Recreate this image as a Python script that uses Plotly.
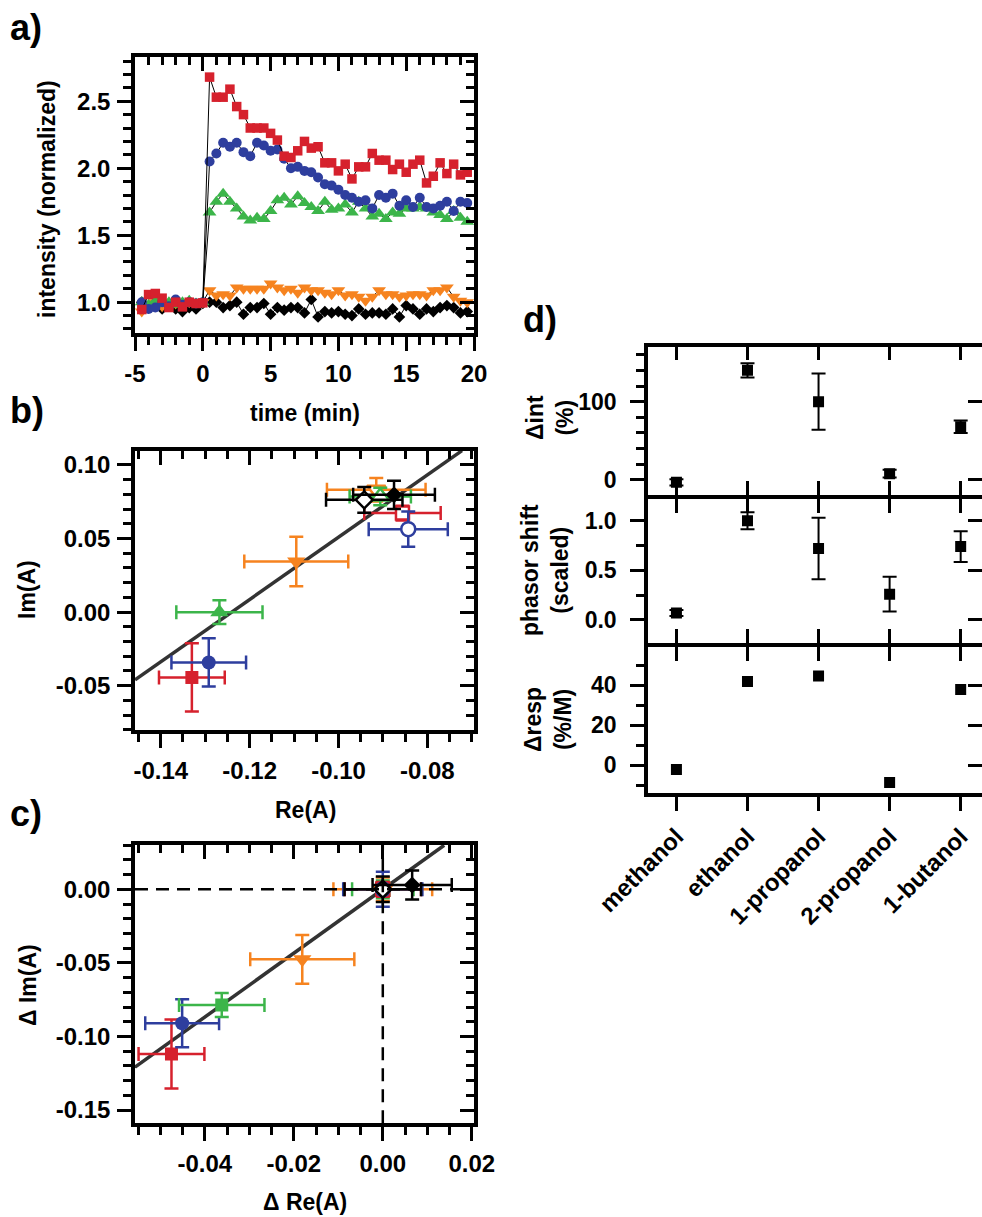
import plotly.graph_objects as go

W, H = 982, 1217
FONT = "Liberation Sans, Arial, sans-serif"

# ---------------- a) normalized intensity vs time ----------------
time_min = [-4.5, -4.0, -3.5, -3.0, -2.5, -2.0, -1.5, -1.0, -0.5, 0.0,
            0.5, 1.0, 1.5, 2.0, 2.5, 3.0, 3.5, 4.0, 4.5, 5.0,
            5.5, 6.0, 6.5, 7.0, 7.5, 8.0, 8.5, 9.0, 9.5, 10.0,
            10.5, 11.0, 11.5, 12.0, 12.5, 13.0, 13.5, 14.0, 14.5, 15.0,
            15.5, 16.0, 16.5, 17.0, 17.5, 18.0, 18.5, 19.0, 19.5]

int_red = [0.945, 1.057, 1.065, 1.03, 0.96, 1.00, 0.965, 1.00, 0.99, 0.995,
           2.68, 2.53, 2.53, 2.59, 2.46, 2.40, 2.30, 2.30, 2.30, 2.26,
           2.21, 2.09, 2.08, 2.13, 2.20, 2.15, 2.16, 2.04, 2.04, 1.98,
           2.03, 1.92, 2.01, 2.01, 2.11, 2.06, 2.06, 1.99, 2.03, 1.97,
           2.03, 2.06, 1.89, 1.94, 2.04, 1.96, 2.03, 1.95, 1.97]
int_blue = [1.00, 0.95, 0.96, 1.00, 0.97, 1.02, 0.98, 1.00, 0.99, 1.00,
            2.05, 2.11, 2.19, 2.16, 2.19, 2.12, 2.09, 2.19, 2.17, 2.13,
            2.14, 2.07, 2.00, 2.01, 1.98, 1.97, 1.93, 1.88, 1.87, 1.84,
            1.80, 1.78, 1.75, 1.76, 1.70, 1.80, 1.78, 1.81, 1.72, 1.76,
            1.71, 1.78, 1.71, 1.70, 1.72, 1.75, 1.68, 1.75, 1.74]
int_green = [1.00, 0.98, 1.01, 0.99, 1.00, 0.98, 1.00, 1.01, 0.99, 1.00,
             1.67, 1.75, 1.81, 1.75, 1.70, 1.64, 1.61, 1.63, 1.62, 1.68,
             1.76, 1.78, 1.73, 1.79, 1.74, 1.71, 1.68, 1.75, 1.69, 1.70,
             1.73, 1.67, 1.75, 1.70, 1.64, 1.66, 1.62, 1.67, 1.66, 1.70,
             1.70, 1.71, 1.70, 1.67, 1.65, 1.62, 1.68, 1.63, 1.60]
int_orange = [0.93, 0.98, 1.00, 0.97, 1.00, 0.99, 0.98, 1.00, 1.00, 1.00,
              1.09, 1.05, 1.06, 1.05, 1.11, 1.10, 1.10, 1.10, 1.10, 1.14,
              1.11, 1.09, 1.10, 1.07, 1.11, 1.09, 1.09, 1.07, 1.06, 1.09,
              1.05, 1.06, 1.04, 1.01, 1.04, 1.09, 1.06, 1.06, 1.04, 1.05,
              1.06, 1.06, 1.05, 1.09, 1.09, 1.11, 1.04, 1.01, 1.00]
int_black = [1.00, 0.96, 0.99, 0.95, 0.97, 0.95, 0.93, 0.96, 0.95, 0.99,
             1.00, 1.00, 0.96, 0.975, 1.00, 0.91, 0.96, 0.96, 0.99, 0.91,
             0.96, 0.94, 0.96, 0.96, 0.92, 1.02, 0.89, 0.93, 0.92, 0.93,
             0.91, 0.90, 0.95, 0.91, 0.92, 0.92, 0.91, 0.95, 0.89, 0.975,
             0.95, 0.91, 0.95, 0.93, 0.96, 0.975, 0.96, 0.92, 0.93]

# ---------------- b) phasor positions ----------------
series_names = ["red", "blue", "green", "orange", "black"]
b_re = [-0.1330, -0.1292, -0.1268, -0.1095, -0.0875]
b_im = [-0.0444, -0.0342, 0.0000, 0.0344, 0.0797]
b_re_err = [0.0074, 0.0084, 0.0097, 0.0117, 0.0092]
b_im_err = [0.0232, 0.0164, 0.0080, 0.0168, 0.0096]
ref_re = [-0.0856, -0.0843, -0.0906, -0.0915, -0.0942]
ref_im = [0.0673, 0.0564, 0.0786, 0.0831, 0.0763]
ref_re_err = [0.0086, 0.0089, 0.0069, 0.0111, 0.0086]
ref_im_err = [0.0050, 0.0119, 0.0060, 0.0080, 0.0087]
fit_b_slope, fit_b_icpt = 2.116, 0.2625
fit_b_x = [-0.1458, -0.0722]

# ---------------- c) phasor shifts ----------------
c_dre = [-0.0475, -0.0451, -0.0362, -0.0181, 0.0066]
c_dim = [-0.1119, -0.0910, -0.0786, -0.0476, 0.0029]
c_dre_err = [0.0074, 0.0083, 0.0096, 0.0117, 0.0089]
c_dim_err = [0.0235, 0.0163, 0.0082, 0.0165, 0.0098]
c_ref = [0.0, 0.0, 0.0, 0.0, 0.0]
fit_c_slope, fit_c_icpt = 2.17, 0.0
fit_c_x = [-0.0557, 0.0138]

# ---------------- d) per alcohol ----------------
alcohols = ["methanol", "ethanol", "1-propanol", "2-propanol", "1-butanol"]
d_int = [-3, 140, 100, 8, 68]
d_int_err = [4, 9, 36, 5, 8]
d_phase = [0.07, 1.00, 0.72, 0.26, 0.74]
d_phase_err = [0.03, 0.085, 0.31, 0.175, 0.155]
d_resp = [-2.2, 41.7, 44.5, -8.8, 37.8]

# tick labels
a_xticks = [-5, 0, 5, 10, 15, 20]
a_yticks = [1.0, 1.5, 2.0, 2.5]
b_xticks = [-0.14, -0.12, -0.10, -0.08]
b_yticks = [-0.05, 0.00, 0.05, 0.10]
c_xticks = [-0.04, -0.02, 0.00, 0.02]
c_yticks = [-0.15, -0.10, -0.05, 0.00]
d_int_ticks = [0, 100]
d_phase_ticks = [0.0, 0.5, 1.0]
d_resp_ticks = [0, 20, 40]

COL = {"red": "#d6212d", "blue": "#2e3e9e", "green": "#3cb54a",
       "orange": "#f6831f", "black": "#000000"}
SYM_B = {"red": "square", "blue": "circle", "green": "triangle-up",
         "orange": "triangle-down", "black": "diamond"}
SYM_C = dict(SYM_B, green="square")
SIZE = {"square": 13, "circle": 14, "triangle-up": 16, "triangle-down": 16, "diamond": 13}


def py(p):
    return 1 - p / H


def labels(vals, fmt):
    return [fmt.format(v) for v in vals]


def main_ax(rng, tickvals, fmt, minor_dtick, domain, anchor, ticks="outside",
            showlabels=True, mirror=True, tickfont=24, standoff=2):
    return dict(range=rng, autorange=False, domain=domain, anchor=anchor,
                tickmode="array", tickvals=tickvals, ticktext=labels(tickvals, fmt),
                ticks=ticks, ticklen=14, tickwidth=3, tickcolor="black",
                showticklabels=showlabels, ticklabelstandoff=standoff,
                tickfont=dict(family=FONT, size=tickfont, color="black", weight="bold"),
                showline=True, linewidth=3.5, linecolor="black", mirror=mirror,
                showgrid=False, zeroline=False,
                minor=dict(tickmode="linear", tick0=0, dtick=minor_dtick, ticks=ticks,
                           ticklen=8, tickwidth=2.5, tickcolor="black", showgrid=False))


def inner_ax(rng, tick0, dtick, minor_dtick, overlaying, side, anchor, minor=True):
    d = dict(range=rng, autorange=False, overlaying=overlaying, side=side, anchor=anchor,
             tickmode="linear", tick0=tick0, dtick=dtick, ticks="inside", ticklen=14,
             tickwidth=3, tickcolor="black", showticklabels=False, showline=False,
             showgrid=False, zeroline=False)
    if minor:
        d["minor"] = dict(tickmode="linear", tick0=tick0, dtick=minor_dtick, ticks="inside",
                          ticklen=8, tickwidth=2.5, tickcolor="black", showgrid=False)
    return d


def cat_ax(domain, anchor, ticks, mirror, showlabels):
    d = dict(type="category", range=[-0.4, 4.3], autorange=False, domain=domain,
             anchor=anchor, ticks=ticks, ticklen=14, tickwidth=3, tickcolor="black",
             showticklabels=showlabels, tickangle=-45, ticklabelstandoff=2,
             tickfont=dict(family=FONT, size=24, color="black", weight="bold"),
             showline=True, linewidth=3.5, linecolor="black", mirror=mirror,
             showgrid=False, zeroline=False)
    return d


fig = go.Figure()

# a)
for name, vals, sym, size in [("black", int_black, "diamond", 9),
                              ("orange", int_orange, "triangle-down", 12),
                              ("green", int_green, "triangle-up", 12),
                              ("blue", int_blue, "circle", 10),
                              ("red", int_red, "square", 9.5)]:
    fig.add_trace(go.Scatter(x=time_min, y=vals, mode="lines+markers",
                             line=dict(color="black", width=1),
                             marker=dict(symbol=sym, size=size, color=COL[name], line=dict(width=0)),
                             xaxis="x", yaxis="y", showlegend=False))


def err(arr, color):
    return dict(type="data", array=arr, color=color, thickness=2.5, width=7)


def phasor_panel(xa, ya, xs, ys, exs, eys, rx, ry, erx, ery, sym_map, fit_x, slope, icpt):
    fig.add_trace(go.Scatter(x=fit_x, y=[slope * v + icpt for v in fit_x], mode="lines",
                             line=dict(color="#333333", width=3.5), xaxis=xa, yaxis=ya,
                             showlegend=False))
    for i in [3, 2, 0, 1, 4]:
        n = series_names[i]
        s = sym_map[n]
        fig.add_trace(go.Scatter(x=[rx[i]], y=[ry[i]], mode="markers",
                                 error_x=err([erx[i]], COL[n]), error_y=err([ery[i]], COL[n]),
                                 marker=dict(symbol=s, size=SIZE[s], color="white",
                                             line=dict(color=COL[n], width=2.5)),
                                 xaxis=xa, yaxis=ya, showlegend=False))
    for i in [0, 1, 2, 3, 4]:
        n = series_names[i]
        s = sym_map[n]
        fig.add_trace(go.Scatter(x=[xs[i]], y=[ys[i]], mode="markers",
                                 error_x=err([exs[i]], COL[n]), error_y=err([eys[i]], COL[n]),
                                 marker=dict(symbol=s, size=SIZE[s], color=COL[n],
                                             line=dict(width=0)),
                                 xaxis=xa, yaxis=ya, showlegend=False))


phasor_panel("x2", "y2", b_re, b_im, b_re_err, b_im_err, ref_re, ref_im, ref_re_err,
             ref_im_err, SYM_B, fit_b_x, fit_b_slope, fit_b_icpt)
phasor_panel("x3", "y3", c_dre, c_dim, c_dre_err, c_dim_err, c_ref, c_ref, ref_re_err,
             ref_im_err, SYM_C, fit_c_x, fit_c_slope, fit_c_icpt)

# d)
dmark = dict(symbol="square", size=11, color="black")
derr = lambda a: dict(type="data", array=a, color="black", thickness=2, width=7)
fig.add_trace(go.Scatter(x=alcohols, y=d_int, mode="markers", marker=dmark,
                         error_y=derr(d_int_err), xaxis="x4", yaxis="y4", showlegend=False))
fig.add_trace(go.Scatter(x=alcohols, y=d_phase, mode="markers", marker=dmark,
                         error_y=derr(d_phase_err), xaxis="x5", yaxis="y5", showlegend=False))
fig.add_trace(go.Scatter(x=alcohols, y=d_resp, mode="markers", marker=dmark,
                         xaxis="x6", yaxis="y6", showlegend=False))

# empty traces to attach the inward-tick mirror axes
for xa, ya in [("x7", "y"), ("x", "y7"), ("x8", "y2"), ("x2", "y8"), ("x9", "y3"),
               ("x3", "y9"), ("x4", "y10"), ("x5", "y11"), ("x12", "y6"), ("x6", "y12"),
               ("x13", "y5")]:
    fig.add_trace(go.Scatter(x=[], y=[], xaxis=xa, yaxis=ya, showlegend=False, hoverinfo="skip"))

# panel geometry (pixels -> paper)
ax_dom_x = [135 / W, 474 / W]
a_rng_x, a_rng_y = [-5, 20], [0.77, 2.83]
b_rng_x, b_rng_y = [-0.1458, -0.0695], [-0.0801, 0.1097]
c_rng_x, c_rng_y = [-0.0557, 0.0205], [-0.159, 0.0301]
d_rng_x = [-0.4, 4.3]
d1_rng, d2_rng, d3_rng = [-19.2, 170.2], [-0.234, 1.224], [-14.15, 59.15]
d_dom_x = [648 / W, 1.0]

fig.update_layout(
    xaxis=main_ax(a_rng_x, a_xticks, "{:d}", 1, ax_dom_x, "y"),
    yaxis=main_ax(a_rng_y, a_yticks, "{:.1f}", 0.1, [py(333), py(57)], "x"),
    xaxis2=main_ax(b_rng_x, b_xticks, "{:.2f}", 0.005, ax_dom_x, "y2"),
    yaxis2=main_ax(b_rng_y, b_yticks, "{:.2f}", 0.01, [py(730), py(450.7)], "x2"),
    xaxis3=main_ax(c_rng_x, c_xticks, "{:.2f}", 0.005, ax_dom_x, "y3"),
    yaxis3=main_ax(c_rng_y, c_yticks, "{:.2f}", 0.01, [py(1123.3), py(845)], "x3"),
    xaxis4=cat_ax(d_dom_x, "y4", "inside", "ticks", False),
    yaxis4=main_ax(d1_rng, d_int_ticks, "{:d}", 20, [py(495.0), py(346.7)], "x4",
                   tickfont=23, standoff=9),
    xaxis5=cat_ax(d_dom_x, "y5", "inside", False, False),
    yaxis5=main_ax(d2_rng, d_phase_ticks, "{:.1f}", 0.25, [py(643.2), py(498.5)], "x5",
                   tickfont=23, standoff=9),
    xaxis6=cat_ax(d_dom_x, "y6", "outside", False, True),
    yaxis6=main_ax(d3_rng, d_resp_ticks, "{:d}", 10, [py(793.3), py(646.7)], "x6",
                   tickfont=23, standoff=9),
    xaxis7=inner_ax(a_rng_x, 0, 5, 1, "x", "top", "y"),
    yaxis7=inner_ax(a_rng_y, 0, 0.5, 0.1, "y", "right", "x"),
    xaxis8=inner_ax(b_rng_x, 0, 0.02, 0.005, "x2", "top", "y2"),
    yaxis8=inner_ax(b_rng_y, 0, 0.05, 0.01, "y2", "right", "x2"),
    xaxis9=inner_ax(c_rng_x, 0, 0.02, 0.005, "x3", "top", "y3"),
    yaxis9=inner_ax(c_rng_y, 0, 0.05, 0.01, "y3", "right", "x3"),
    yaxis10=inner_ax(d1_rng, 0, 100, 20, "y4", "right", "x4", minor=False),
    yaxis11=inner_ax(d2_rng, 0, 0.5, 0.25, "y5", "right", "x5", minor=False),
    xaxis12=inner_ax(d_rng_x, 0, 1, 1, "x6", "top", "y6", minor=False),
    yaxis12=inner_ax(d3_rng, 0, 20, 10, "y6", "right", "x6", minor=False),
    xaxis13=inner_ax(d_rng_x, 0, 1, 1, "x5", "top", "y5", minor=False),
)

# dashed zero lines in c)
dash = dict(color="black", width=2.5, dash="13px,8px")
fig.add_shape(type="line", xref="x3 domain", yref="y3", x0=0, x1=1, y0=0, y1=0, line=dash)
fig.add_shape(type="line", xref="x3", yref="y3 domain", x0=0, x1=0, y0=0, y1=1, line=dash)


def note(text, x, y, size=23, angle=0):
    fig.add_annotation(text=text, x=x / W, y=py(y), xref="paper", yref="paper",
                       showarrow=False, textangle=angle, xanchor="center", yanchor="middle",
                       font=dict(family=FONT, size=size, color="black", weight="bold"))


note("a)", 26, 28, 36)
note("b)", 27, 410, 36)
note("c)", 26, 813, 36)
note("d)", 540, 320, 36)
note("intensity (normalized)", 47, 199, angle=-90)
note("time (min)", 305, 413)
note("Im(A)", 27, 590, angle=-90)
note("Re(A)", 305, 810)
note("Δ Im(A)", 28, 985, angle=-90)
note("Δ Re(A)", 305, 1202)
note("Δint<br>(%)", 550, 418, angle=-90)
note("phasor shift<br>(scaled)", 545, 570, angle=-90)
note("Δresp<br>(%/M)", 548, 720, angle=-90)

fig.update_layout(width=W, height=H,
                  margin=dict(l=0, r=0, t=0, b=0, pad=0, autoexpand=False),
                  plot_bgcolor="white", paper_bgcolor="white",
                  font=dict(family=FONT, color="black"))

fig.write_html("out.html", config={"displayModeBar": False},
               post_script="document.body.style.margin='0';")
